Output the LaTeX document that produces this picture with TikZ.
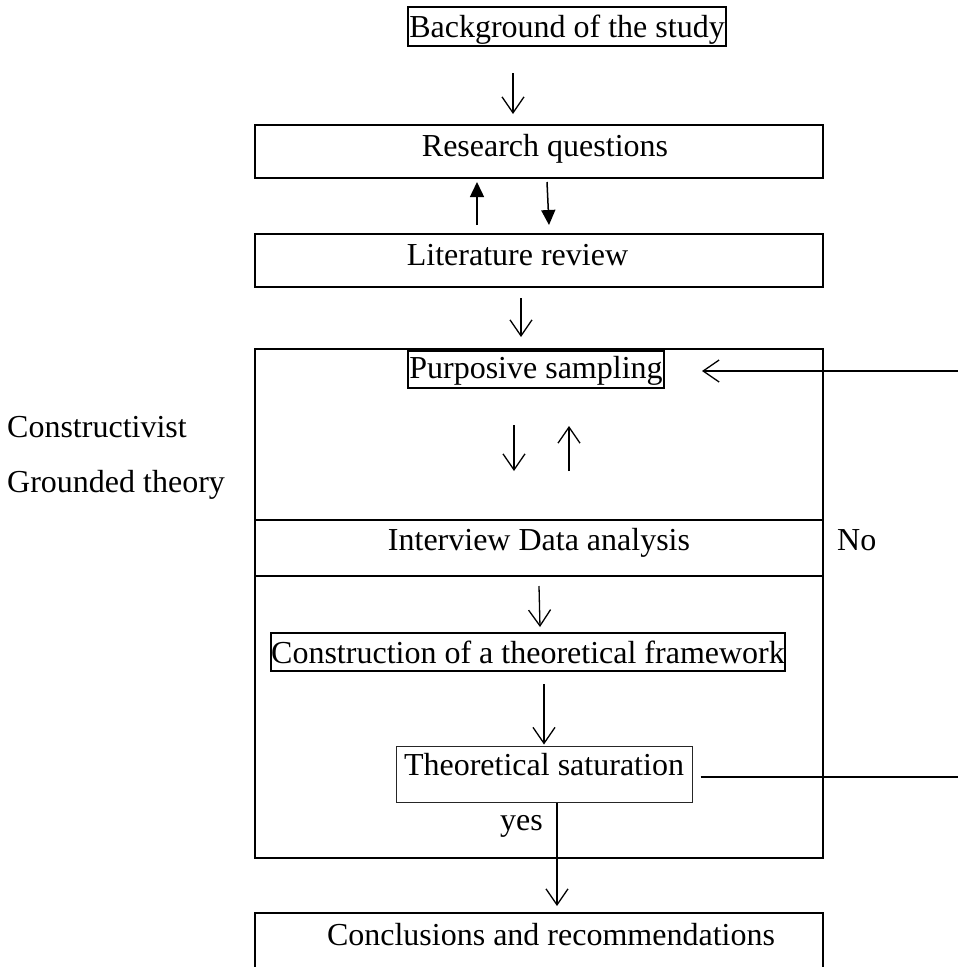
\documentclass[tikz,border=0pt]{standalone}
\usepackage{fontspec}
\setmainfont{Liberation Serif}
\usetikzlibrary{arrows.meta}

\tikzset{
  every node/.style={font=\fontsize{32pt}{38pt}\selectfont},
  boxed/.style={draw, line width=2pt, inner sep=0pt},
  thinbox/.style={draw=black!85, line width=1pt, inner sep=0pt},
  plain/.style={inner sep=0pt, anchor=base west},
  openarrow/.style={line width=1.3pt, -{Straight Barb[length=16pt, width=22pt]}},
  solidarrow/.style={line width=1.5pt, -{Triangle[length=15pt, width=14pt]}},
  link/.style={line width=1.5pt}
}

\begin{document}
\begin{tikzpicture}[x=1pt, y=-1pt]
  \clip (0,0) rectangle (958,967);

  % main chain of boxes
  \node[boxed, minimum width=318pt, text height=30pt, text depth=9pt]
    (bg) at (567,26.5) {Background of the study};
  \node[boxed, minimum width=568pt, text height=31pt, text depth=22pt]
    (rq) at (539,151.5) {\hspace*{12pt}Research questions};
  \node[boxed, minimum width=568pt, text height=31pt, text depth=22pt]
    (lr) at (539,260.5) {Literature review\hspace*{43pt}};

  % grounded theory frame
  \node[boxed, minimum width=568pt, minimum height=509pt] (gt) at (539,603.5) {};
  \node[boxed, minimum width=256pt, text height=27pt, text depth=10pt]
    (ps) at (536,369.5) {Purposive sampling};
  \node[boxed, minimum width=568pt, text height=30pt, text depth=26pt]
    (ida) at (539,548) {Interview Data analysis};
  \node[boxed, minimum width=514pt, text height=30pt, text depth=8pt]
    (cf) at (528,652) {Construction of a theoretical framework};
  \node[thinbox, minimum width=296pt, text height=29pt, text depth=27pt]
    (ts) at (544,774) {Theoretical saturation};

  \node[boxed, minimum width=568pt, text height=32pt, text depth=45pt]
    (cr) at (539,951.5) {\hspace*{24pt}Conclusions and recommendations};

  % side labels
  \node[plain] (ct1) at (7,437) {Constructivist};
  \node[plain] (ct2) at (7,492) {Grounded theory};
  \node[plain] (no) at (837,550) {No};
  \node[plain] (yes) at (500,830) {yes};

  % connectors
  \draw[openarrow] ([xshift=-54pt,yshift=-26pt]bg.south) -- ([xshift=-26pt,yshift=10pt]rq.north);
  \draw[solidarrow] ([xshift=-62pt,yshift=8pt]lr.north) -- ([xshift=-62pt,yshift=-3pt]rq.south);
  \draw[solidarrow] ([xshift=8pt,yshift=-3pt]rq.south) -- ([xshift=10pt,yshift=8pt]lr.north);
  \draw[openarrow] ([xshift=-18pt,yshift=-10pt]lr.south) -- ([xshift=-18pt,yshift=11pt]gt.north);

  \draw[openarrow] ([xshift=-22pt,yshift=-36pt]ps.south) -- ([xshift=-25pt,yshift=48pt]ida.north);
  \draw[openarrow] ([xshift=30pt,yshift=48pt]ida.north) -- ([xshift=33pt,yshift=-37pt]ps.south);

  \draw[openarrow] ([yshift=-9pt]ida.south) -- ([xshift=1pt,yshift=5pt]ida.south |- cf.north);
  \draw[openarrow] ([yshift=-12pt]cf.south -| ts.north) -- ([yshift=1pt]ts.north);

  % feedback loop: not saturated, back to sampling
  \draw[link] ([xshift=8pt,yshift=-3pt]ts.east) -- ++(262,0) coordinate (loopR);
  \draw[openarrow] (loopR) |- ([xshift=37pt,yshift=-1.5pt]ps.east);

  % saturated: on to conclusions
  \draw[openarrow] ([xshift=13pt]ts.south) -- ([xshift=13pt,yshift=6pt]ts.south |- cr.north);
\end{tikzpicture}
\end{document}
